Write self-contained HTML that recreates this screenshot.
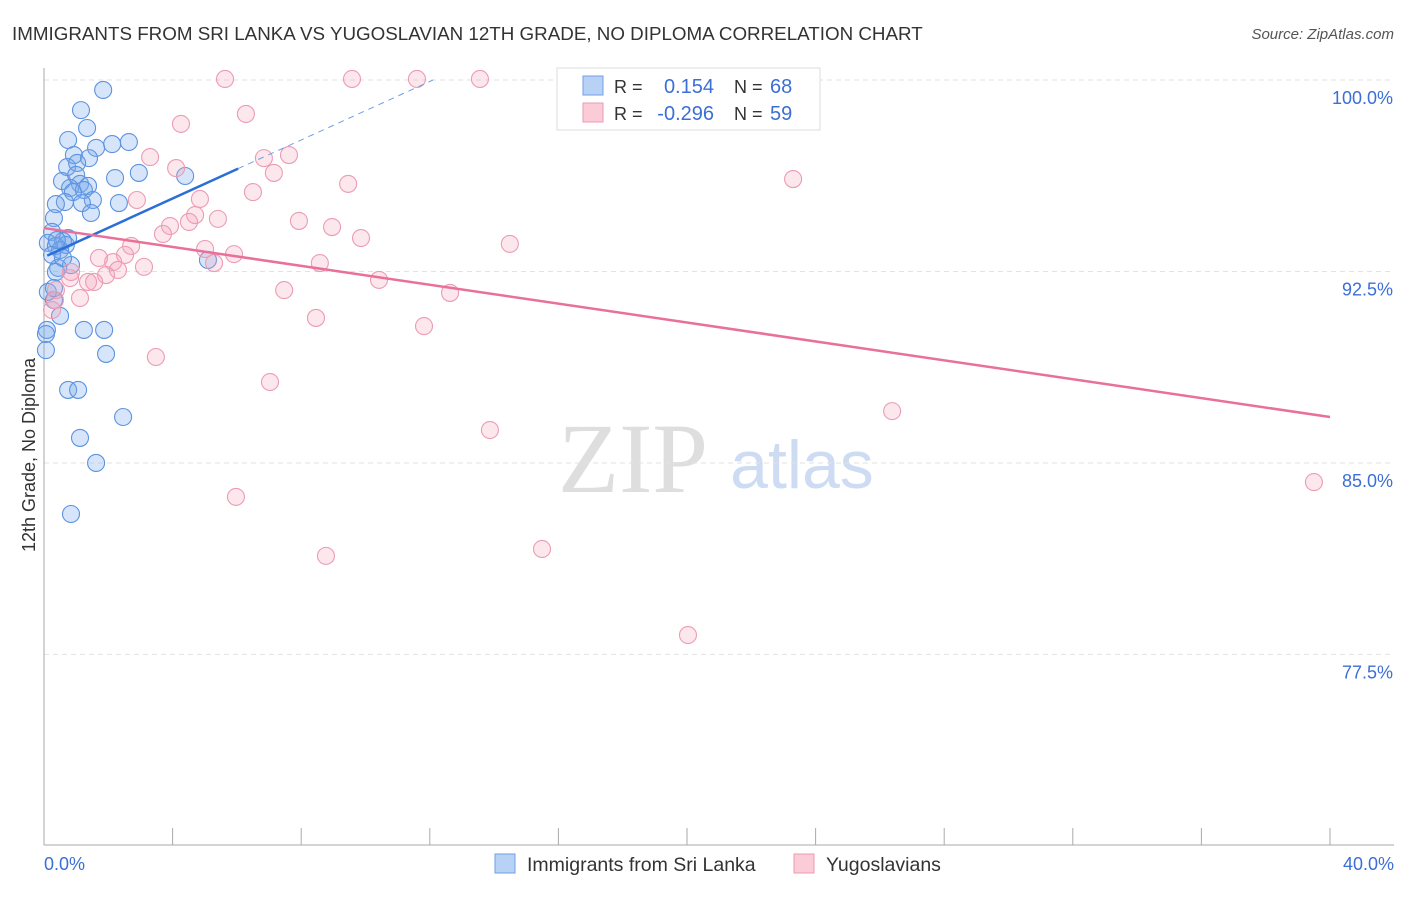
<!DOCTYPE html>
<html><head><meta charset="utf-8"><style>
body{margin:0;background:#fff;font-family:"Liberation Sans",sans-serif}
</style></head><body>
<svg width="1406" height="892" font-family="Liberation Sans, sans-serif">
<text x="12" y="40" font-size="18.8" fill="#333">IMMIGRANTS FROM SRI LANKA VS YUGOSLAVIAN 12TH GRADE, NO DIPLOMA CORRELATION CHART</text>
<text x="1394" y="39" font-size="15" fill="#555" font-style="italic" text-anchor="end">Source: ZipAtlas.com</text>
<text x="633" y="492" font-size="100" fill="#dedede" style="font-family:'Liberation Serif',serif" text-anchor="middle">ZIP</text>
<text x="802" y="488" font-size="68" fill="#cddcf2" text-anchor="middle">atlas</text>
<g id="grid"></g><g id="axes"></g><g id="pts"></g><g id="lines"></g>
<text transform="translate(35,455) rotate(-90)" font-size="18" fill="#333" text-anchor="middle">12th Grade, No Diploma</text>
<text x="44" y="870" font-size="18" fill="#3b6fd6">0.0%</text>
<text x="1394" y="870" font-size="18" fill="#3b6fd6" text-anchor="end">40.0%</text>
<g>
<rect x="557" y="68" width="263" height="62" fill="#fff" stroke="#ddd"/>
<rect x="583" y="76" width="20" height="19" fill="#b8d2f6" stroke="#6f9fe6"/>
<rect x="583" y="103" width="20" height="19" fill="#fbcbd8" stroke="#eb9ab4"/>
<text x="614" y="93" font-size="18" fill="#333">R =</text>
<text x="714" y="93" font-size="20" fill="#3b6fd6" text-anchor="end">0.154</text>
<text x="734" y="93" font-size="18" fill="#333">N =</text>
<text x="770" y="93" font-size="20" fill="#3b6fd6">68</text>
<text x="614" y="120" font-size="18" fill="#333">R =</text>
<text x="714" y="120" font-size="20" fill="#3b6fd6" text-anchor="end">-0.296</text>
<text x="734" y="120" font-size="18" fill="#333">N =</text>
<text x="770" y="120" font-size="20" fill="#3b6fd6">59</text>
</g>
<g>
<rect x="495" y="854" width="20" height="19" fill="#b8d2f6" stroke="#6f9fe6"/>
<text x="527" y="871" font-size="19.5" fill="#333">Immigrants from Sri Lanka</text>
<rect x="794" y="854" width="20" height="19" fill="#fbcbd8" stroke="#eb9ab4"/>
<text x="826" y="871" font-size="19.5" fill="#333">Yugoslavians</text>
</g>
</svg>
<script>
const yTicks=[100,92.5,85,77.5];
const yTickLabels=["100.0%","92.5%","85.0%","77.5%"];
const xTicks=[4,8,12,16,20,24,28,32,36,40];
const bluePx=[[103,90],[81,110],[87,128],[68,140],[129,142],[112,144],[96,148],[74,155],[89,158],[67,167],[77,163],[139,173],[185,176],[115,178],[62,181],[76,175],[80,184],[88,186],[70,188],[84,190],[73,192],[93,200],[65,202],[56,204],[82,203],[119,203],[91,213],[54,218],[52,232],[68,238],[63,241],[48,243],[56,246],[66,245],[60,250],[52,255],[71,265],[58,268],[208,260],[56,272],[48,292],[54,300],[60,316],[47,330],[46,334],[84,330],[104,330],[46,350],[106,354],[68,390],[78,390],[123,417],[80,438],[96,463],[71,514],[54,288],[63,258],[57,240]];
const pinkPx=[[225,79],[352,79],[417,79],[480,79],[181,124],[246,114],[150,157],[176,168],[264,158],[289,155],[274,173],[348,184],[253,192],[200,199],[137,200],[195,215],[170,226],[218,219],[189,222],[299,221],[332,227],[361,238],[163,234],[510,244],[131,246],[234,254],[205,249],[125,255],[113,262],[99,258],[144,267],[118,270],[106,275],[214,263],[320,263],[379,280],[284,290],[450,293],[88,282],[70,278],[55,300],[80,298],[316,318],[424,326],[156,357],[270,382],[892,411],[490,430],[236,497],[326,556],[542,549],[688,635],[793,179],[1314,482],[56,290],[52,310],[94,282],[71,272]];
const blueX=bluePx.map(p=>+((p[0]-44)/32.15).toFixed(2));
const blueY=bluePx.map(p=>+(100-(p[1]-80)/25.53).toFixed(2));
const pinkX=pinkPx.map(p=>+((p[0]-44)/32.15).toFixed(2));
const pinkY=pinkPx.map(p=>+(100-(p[1]-80)/25.53).toFixed(2));
const blueLine=[0.1,93.12,6.04,96.53,12.1,100];
const pinkLine=[0,94.2,40,86.8];
const X=v=>44+v*32.15, Y=v=>80+(100-v)*25.53;
const NS="http://www.w3.org/2000/svg";
function mk(t,a,p){const e=document.createElementNS(NS,t);for(const k in a)e.setAttribute(k,a[k]);p.appendChild(e);return e;}
const grid=document.getElementById('grid'),axes=document.getElementById('axes'),pts=document.getElementById('pts'),lines=document.getElementById('lines');
yTicks.forEach((v,i)=>{
 const l=mk('line',{x1:44,x2:1394,y1:Y(v),y2:Y(v),stroke:'#e2e2e2','stroke-dasharray':'5,4'},grid);
 
 
 const t=mk('text',{x:1393,y:Y(v)+24,'font-size':18,fill:'#3b6fd6','text-anchor':'end'},grid);
 t.textContent=yTickLabels[i];
 
 
});
const ya=mk('line',{x1:44,x2:44,y1:68,y2:845,stroke:'#aaa'},axes);


const xa=mk('line',{x1:44,x2:1394,y1:845,y2:845,stroke:'#aaa'},axes);


xTicks.forEach(v=>{
 const t=mk('line',{x1:X(v),x2:X(v),y1:828,y2:845,stroke:'#aaa'},axes);
 
 
});
blueX.forEach((x,i)=>{
 const c=mk('circle',{cx:X(x),cy:Y(blueY[i]),r:8.5,fill:'rgba(120,170,235,0.3)',stroke:'#5d93e0','stroke-width':1.1},pts);
 
 
});
pinkX.forEach((x,i)=>{
 const c=mk('circle',{cx:X(x),cy:Y(pinkY[i]),r:8.5,fill:'rgba(245,160,185,0.25)',stroke:'#ec9bb5','stroke-width':1.1},pts);
 
 
});
const b1=mk('line',{x1:X(blueLine[0]),y1:Y(blueLine[1]),x2:X(blueLine[2]),y2:Y(blueLine[3]),stroke:'#2a6fd6','stroke-width':2.5},lines);


const b2=mk('line',{x1:X(blueLine[2]),y1:Y(blueLine[3]),x2:X(blueLine[4]),y2:Y(blueLine[5]),stroke:'#6f9fe6','stroke-width':1,'stroke-dasharray':'6,5'},lines);


const p1=mk('line',{x1:X(pinkLine[0]),y1:Y(pinkLine[1]),x2:X(pinkLine[2]),y2:Y(pinkLine[3]),stroke:'#e8709a','stroke-width':2.5},lines);


</script>
</body></html>
